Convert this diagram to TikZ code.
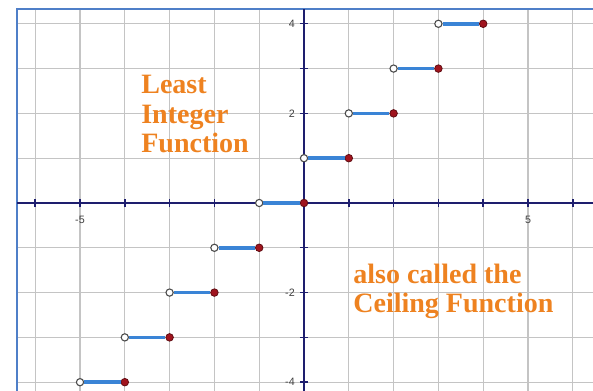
\documentclass[tikz,border=0pt]{standalone}
\usepackage{fontspec}
\setmainfont{Liberation Serif}
\setsansfont{Liberation Sans}
\usetikzlibrary{positioning}
\definecolor{gridgray}{HTML}{C4C4C4}
\definecolor{axisnavy}{HTML}{1E1E6E}
\definecolor{frameblue}{HTML}{4F7FC8}
\definecolor{stepblue}{HTML}{3A84D6}
\definecolor{dotred}{HTML}{A0141E}
\definecolor{ceilorange}{HTML}{EE8220}
\tikzset{
  gline/.style={gridgray, line width=0.7pt},
  axl/.style={axisnavy, line width=0.9pt},
  seg/.style={stepblue, line width=2.2pt},
  cdot/.style={circle, fill=dotred, draw=dotred!60!black, line width=0.5pt,
               inner sep=0pt, minimum size=4.8pt},
  odot/.style={circle, fill=white, draw=black!70, line width=0.7pt,
               inner sep=0pt, minimum size=4.6pt},
  tlab/.style={font=\sffamily\fontsize{6.8}{7}\selectfont, text=black!75, inner sep=0pt},
  ftext/.style={font=\bfseries\fontsize{17.8}{19}\selectfont, text=ceilorange,
                align=left, inner sep=0pt},
}

\begin{document}
\begin{tikzpicture}[x=1cm,y=1cm]
  \useasboundingbox (-6.786,-4.196) rectangle (6.451,4.531);
  % grid
  \foreach \i in {-6,...,6} \draw[gline] (\i,-4.196)--(\i,4.33);
  \foreach \j in {-4,...,4} \draw[gline] (-6.406,\j)--(6.451,\j);
  \draw[frameblue, line width=1.3pt] (-6.406,-4.196)--(-6.406,4.33)--(6.451,4.33);
  % axes
  \draw[axl] (-6.406,0)--(6.451,0);
  \draw[axl] (0,-4.196)--(0,4.33);
  \foreach \i in {-6,...,6} \draw[axl] (\i,-0.09)--(\i,0.09);
  \foreach \j in {-4,...,4} \draw[axl] (-0.09,\j)--(0.09,\j);
  \node[tlab, anchor=north] (xm5) at (-5,-0.29) {-5};
  \node[tlab, anchor=north] (xp5) at (5,-0.29) {5};
  \foreach \j in {-4,-2,2,4} \node[tlab, anchor=east] (y\j) at (-0.2,\j) {\j};
  % steps
  \foreach \n in {-4,...,4}{
    \pgfmathtruncatemacro{\m}{\n-1}
    \node[odot] (o\n) at (\m,\n) {};
    \node[cdot] (c\n) at (\n,\n) {};
    \draw[seg] (o\n) -- (c\n);
  }
  \node[ftext, anchor=base west] (lif) at (-3.638,1.116) {Least\\Integer\\Function};
  \node[ftext, anchor=base west] (ceil) at (1.094,-2.455) {also called the\\Ceiling Function};
\end{tikzpicture}
\end{document}
